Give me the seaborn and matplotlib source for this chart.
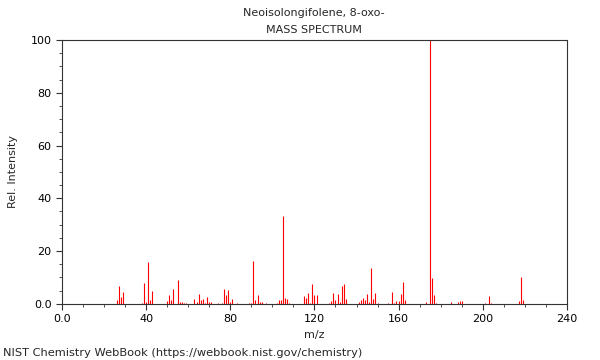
import matplotlib
matplotlib.use("Agg")
import matplotlib.pyplot as plt
import seaborn as sns
from matplotlib.ticker import AutoMinorLocator

# Peaks (m/z, relative intensity)
mz = [26, 27, 28, 29, 38, 39, 40, 41, 42, 43,
      50, 51, 52, 53, 55, 56, 57, 58, 59,
      63, 64, 65, 66, 67, 68, 69, 70, 71, 74, 76, 77, 78, 79, 80, 81, 83,
      89, 90, 91, 92, 93, 94, 95, 97,
      102, 103, 104, 105, 106, 107, 108,
      115, 116, 117, 118, 119, 120, 121,
      127, 128, 129, 130, 131, 132, 133, 134, 135,
      141, 142, 143, 144, 145, 146, 147, 148, 149, 150,
      155, 157, 158, 159, 160, 161, 162, 163,
      173, 175, 176, 177, 178, 185, 188, 189, 190,
      201, 203, 204, 217, 218, 219]
intensity = [1.5, 6.6, 2.5, 4.5, 0.5, 8.0, 0.6, 15.7, 1.3, 5.0,
             1.0, 3.5, 1.3, 5.8, 9.1, 0.7, 0.8, 0.3, 0.5,
             1.7, 0.8, 3.8, 1.3, 2.0, 0.5, 2.5, 0.6, 0.6, 0.3, 0.5, 5.6, 3.2, 5.2, 0.8, 1.7, 0.5,
             0.4, 0.3, 16.2, 1.3, 3.4, 0.8, 0.7, 0.5,
             0.3, 1.5, 1.6, 33.2, 2.3, 1.8, 0.4,
             2.8, 2.3, 4.2, 0.5, 7.6, 3.5, 3.4,
             0.5, 1.0, 4.0, 1.3, 3.6, 0.8, 6.6, 7.4, 2.0,
             0.7, 1.3, 2.4, 1.3, 3.7, 0.8, 13.5, 1.9, 4.0, 0.5,
             0.3, 4.4, 0.5, 1.0, 1.0, 3.8, 8.1, 1.3,
             0.6, 100.0, 9.8, 3.5, 0.4, 0.6, 0.8, 1.0, 0.9,
             0.4, 2.8, 0.4, 1.0, 10.1, 1.3]

x_ticks = [0, 40, 80, 120, 160, 200, 240]
x_labels = ["0.0", "40", "80", "120", "160", "200", "240"]
y_ticks = [0, 20, 40, 60, 80, 100]
y_labels = ["0.0", "20", "40", "60", "80", "100"]

sns.set_style("ticks")
plt.rcParams['font.family'] = ['DejaVu Sans']

fig = plt.figure(figsize=(6, 3.6), dpi=100)
ax = fig.add_axes([0.103, 0.156, 0.842, 0.733])

ax.vlines(mz, 0, intensity, colors="red", linewidth=0.8)

ax.set_xlim(0, 240)
ax.set_ylim(0, 100)
ax.set_xticks(x_ticks)
ax.set_xticklabels(x_labels)
ax.set_yticks(y_ticks)
ax.set_yticklabels(y_labels)
ax.xaxis.set_minor_locator(AutoMinorLocator())
ax.yaxis.set_minor_locator(AutoMinorLocator())
ax.tick_params(which="major", length=4, width=0.8, labelsize=8, colors="#333333")
ax.tick_params(which="minor", length=2.5, width=0.6, colors="#333333")
ax.tick_params(labelcolor="black")
for s in ax.spines.values():
    s.set_visible(True)
    s.set_color("#333333")
    s.set_linewidth(0.8)

ax.set_xlabel("m/z", fontsize=8, labelpad=4)
ax.set_ylabel("Rel. Intensity", fontsize=8, labelpad=9)

fig.text(0.523, 0.963, "Neoisolongifolene, 8-oxo-", ha="center", va="center", fontsize=8)
fig.text(0.523, 0.916, "MASS SPECTRUM", ha="center", va="center", fontsize=8)
fig.text(0.005, 0.02, "NIST Chemistry WebBook (https://webbook.nist.gov/chemistry)",
         ha="left", va="center", fontsize=8.2)

fig.savefig("out.png", dpi=100)
